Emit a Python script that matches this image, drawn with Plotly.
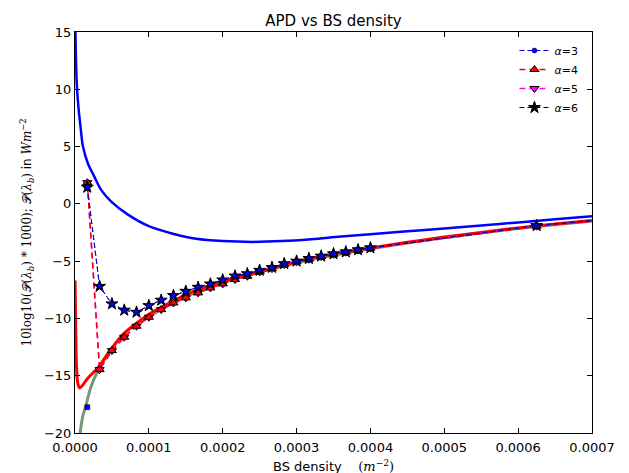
import plotly.graph_objects as go

# ---------------- data ----------------
# upper analytic curve (blue solid)
blue_x = [0.0000002, 0.0000014, 0.0000027, 0.000005, 0.0000077, 0.0000108, 0.0000176,
          0.000026, 0.0000356, 0.0000491, 0.0000717, 0.0001, 0.000135, 0.000164, 0.0002,
          0.00024, 0.00028, 0.00032, 0.00036, 0.0004, 0.00045, 0.0005, 0.00055, 0.0006,
          0.00065, 0.0007]
blue_y = [17.0, 12.4, 10.1, 8.2, 6.6, 5.0, 3.5, 2.4, 1.2, 0.2, -0.94, -1.95, -2.65, -3.05,
          -3.25, -3.32, -3.25, -3.08, -2.85, -2.65, -2.4, -2.15, -1.88, -1.62, -1.35, -1.08]

# red solid curve
red_x = [0.0000001, 0.0000005, 0.000001, 0.0000015, 0.0000025, 0.000004, 0.0000064, 0.00001,
         0.0000176, 0.0000311, 0.000047, 0.0000627, 0.0000808, 0.0000988, 0.0001146, 0.000148,
         0.000182, 0.000218, 0.000254, 0.0003, 0.000356, 0.0004, 0.00045, 0.0005, 0.00055,
         0.0006, 0.00065, 0.0007]
red_y = [-6.7, -8.5, -11.0, -13.0, -14.8, -15.7, -16.07, -15.85, -15.2, -14.3, -12.86, -11.55,
         -10.54, -9.7, -9.1, -8.0, -7.15, -6.45, -5.9, -5.05, -4.3, -3.86, -3.36, -2.9, -2.49,
         -2.1, -1.76, -1.45]

# lower curve (grey-green)
green_x = [0.000006, 0.000008, 0.000011, 0.0000153, 0.00002, 0.000025, 0.000031, 0.00004,
           0.00005, 0.00007, 0.0001, 0.00015, 0.0002, 0.0003, 0.0004, 0.0005, 0.0006, 0.0007]
green_y = [-20.6, -19.5, -18.4, -17.5, -16.3, -15.4, -14.6, -13.5, -12.6, -11.1, -9.85, -8.1,
           -6.9, -5.15, -3.92, -2.95, -2.15, -1.5]

# simulated BS densities
sim_x = [0.0000167, 0.0000333, 0.00005, 0.0000667, 0.0000833, 0.0001, 0.0001167, 0.0001333,
         0.00015, 0.0001667, 0.0001833, 0.0002, 0.0002167, 0.0002333, 0.00025, 0.0002667,
         0.0002833, 0.0003, 0.0003167, 0.0003333, 0.00035, 0.0003667, 0.0003833, 0.0004,
         0.000625, 0.00075]
upper_y = [1.45, -7.2, -8.73, -9.28, -9.46, -8.88, -8.41, -8.0, -7.63, -7.28, -6.99, -6.64,
           -6.3, -6.1, -5.8, -5.55, -5.22, -5.0, -4.77, -4.56, -4.36, -4.19, -4.01, -3.84,
           -1.9, -1.15]
lower_y = [1.85, -14.47, -12.81, -11.64, -10.68, -9.9, -9.23, -8.65, -8.21, -7.77, -7.34,
           -6.99, -6.61, -6.32, -5.94, -5.65, -5.3, -5.06, -4.83, -4.6, -4.4, -4.22, -4.04,
           -3.86, -1.95, -1.2]
extra_x = [0.0000167]
extra_y = [-17.75]

x_ticks = [0.0, 0.0001, 0.0002, 0.0003, 0.0004, 0.0005, 0.0006, 0.0007]
y_ticks = [-20, -15, -10, -5, 0, 5, 10, 15]
labels = ["<i>α</i>=3", "<i>α</i>=4", "<i>α</i>=5", "<i>α</i>=6"]

# ---------------- figure ----------------
fig = go.Figure()

fig.add_trace(go.Scatter(x=green_x, y=green_y, mode="lines", showlegend=False,
                         line=dict(color="rgb(120,150,120)", width=3, shape="spline")))
fig.add_trace(go.Scatter(x=red_x, y=red_y, mode="lines", showlegend=False,
                         line=dict(color="red", width=3, shape="spline")))
fig.add_trace(go.Scatter(x=blue_x, y=blue_y, mode="lines", showlegend=False,
                         line=dict(color="blue", width=2.5, shape="spline")))

edge = dict(color="black", width=1)
# alpha = 5 (magenta triangle down)
fig.add_trace(go.Scatter(x=sim_x, y=lower_y, mode="lines+markers", name=labels[2], legendrank=3,
                         line=dict(color="magenta", width=1.5, dash="6px,4px"),
                         marker=dict(symbol="triangle-down", size=8, color="magenta", line=edge)))
# alpha = 4 (red triangle up)
fig.add_trace(go.Scatter(x=sim_x, y=lower_y, mode="lines+markers", name=labels[1], legendrank=2,
                         line=dict(color="red", width=1.5, dash="6px,4px"),
                         marker=dict(symbol="triangle-up", size=8, color="red", line=edge)))
# alpha = 6 (black star)
fig.add_trace(go.Scatter(x=sim_x, y=upper_y, mode="lines+markers", name=labels[3], legendrank=4,
                         line=dict(color="black", width=1, dash="5px,3px"),
                         marker=dict(symbol="star", size=9, color="black", line=edge)))
# alpha = 3 (blue circle)
fig.add_trace(go.Scatter(x=sim_x, y=upper_y, mode="lines+markers", name=labels[0], legendrank=1,
                         line=dict(color="blue", width=1, dash="5px,3px"),
                         marker=dict(symbol="circle", size=5, color="blue",
                                     line=dict(color="black", width=0.5))))
fig.add_trace(go.Scatter(x=extra_x, y=extra_y, mode="markers", showlegend=False,
                         marker=dict(symbol="square", size=5, color="blue",
                                     line=dict(color="black", width=0.5))))

axis_common = dict(showline=True, linecolor="black", linewidth=1, mirror="ticks",
                   ticks="inside", ticklen=5, tickcolor="black", showgrid=False,
                   zeroline=False, tickfont=dict(family="DejaVu Sans", size=13, color="black"))

fig.update_xaxes(range=[0, 0.0007], tickvals=x_ticks, tickformat=".4f",
                 ticklabelstandoff=2, **axis_common)
fig.update_yaxes(range=[-20, 15], tickvals=y_ticks, **axis_common)

fig.update_layout(
    width=629, height=473,
    margin=dict(l=67, r=45, t=24, b=48),
    plot_bgcolor="white", paper_bgcolor="white",
    font=dict(family="DejaVu Sans", color="black"),
    title=dict(text="APD vs BS density", x=0.5, xref="paper", y=1 - 13 / 473,
               yanchor="middle", font=dict(family="DejaVu Sans", size=15, color="black")),
    legend=dict(x=0.85, xanchor="left", y=0.99, yanchor="top", bgcolor="rgba(0,0,0,0)",
                borderwidth=0, font=dict(family="DejaVu Sans", size=11, color="black"),
                itemwidth=30, tracegroupgap=0),
    annotations=[
        dict(text="BS density    <span style='font-family:DejaVu Serif'>(<i>m</i><sup>−2</sup>)</span>",
             xref="paper", yref="paper", x=0.5, y=-0.082, xanchor="center", yanchor="middle",
             showarrow=False, font=dict(family="DejaVu Sans", size=13, color="black")),
        dict(text="<span style='font-family:DejaVu Serif'>10log10(𝒫(<i>λ</i><sub><i>b</i></sub>) * 1000); "
                  "𝒫(<i>λ</i><sub><i>b</i></sub>)</span> in "
                  "<span style='font-family:DejaVu Serif'><i>Wm</i><sup>−2</sup></span>",
             xref="paper", yref="paper", x=-0.093, y=0.5, xanchor="center", yanchor="middle",
             textangle=-90, showarrow=False,
             font=dict(family="DejaVu Sans", size=12, color="black")),
    ],
)

fig.write_html("out.html")
